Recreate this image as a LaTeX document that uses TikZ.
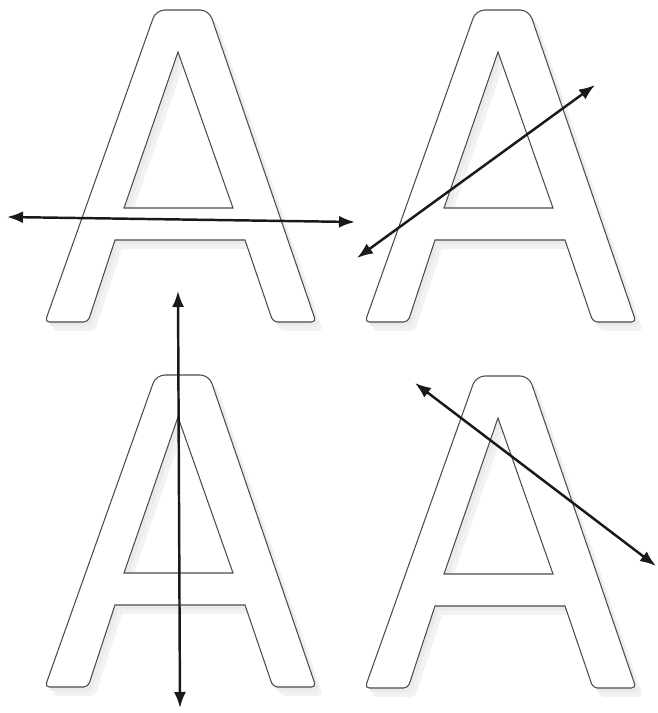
\documentclass[tikz,border=0pt]{standalone}
\usetikzlibrary{arrows.meta}

\begin{document}
\begin{tikzpicture}[x=0.02cm,y=-0.02cm,
        outline/.style={draw=black!70,line width=0.6pt,fill=white,even odd rule,
                        preaction={fill=black!5,even odd rule,
                                   transform canvas={xshift=4pt,yshift=-5pt}},
                        preaction={fill=black!8,even odd rule,
                                   transform canvas={xshift=2pt,yshift=-2.5pt}}},
        twoway/.style={{Latex[length=0.32cm,width=0.24cm]}-{Latex[length=0.32cm,width=0.24cm]},
                       line width=1.4pt,black!90},
        letterA/.pic={
          \path[outline]
            (115,240) -- (245,240) [rounded corners=2.5pt] -- (273,322) -- (316,322)
            [rounded corners=5pt] -- (209,10) -- (156,10)
            [rounded corners=2.5pt] -- (45,322) -- (88,322) [sharp corners] -- cycle
            (178,52) -- (233,208) -- (124,208) -- cycle;
        }]
      \fill[white] (0,0) rectangle (657,713);
      \foreach \dx/\dy/\n in {0/0/tl,320/0/tr,0/365/bl,320/366/br}{
        \pic (\n) at (\dx,\dy) {letterA};
      }
      \coordinate (h1) at (7,217);   \coordinate (h2) at (355,222);
      \coordinate (r1) at (357,258); \coordinate (r2) at (595,85);
      \coordinate (v1) at (178,291); \coordinate (v2) at (180,708);
      \coordinate (d1) at (415,383); \coordinate (d2) at (656,566);
      \foreach \a/\b in {h1/h2,r1/r2,v1/v2,d1/d2}{
        \draw[twoway] (\a)--(\b);
      }
    \end{tikzpicture}
\end{document}
